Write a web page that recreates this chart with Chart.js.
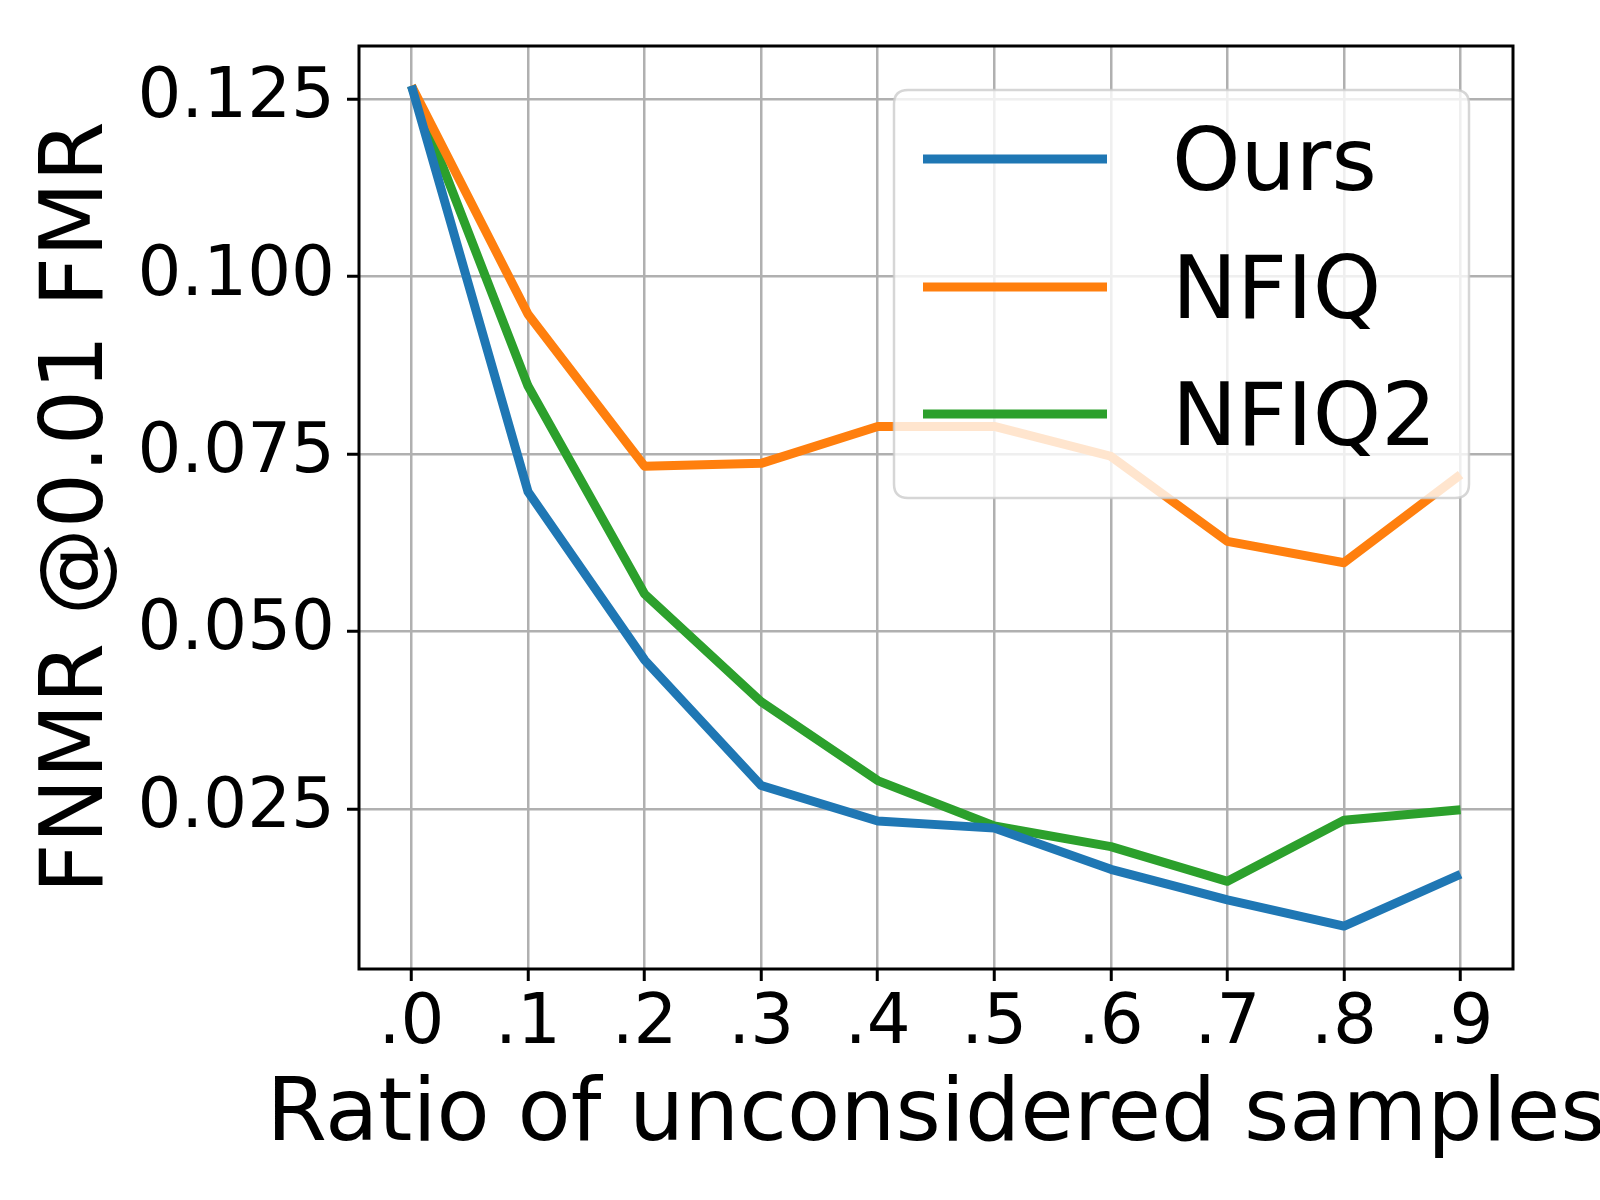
<!DOCTYPE html>
<html>
<head>
<meta charset="utf-8">
<script src="https://cdn.jsdelivr.net/npm/chart.js@4.4.1/dist/chart.umd.min.js"></script>
<style>
  html, body { margin: 0; padding: 0; background: #ffffff; }
  canvas { display: block; }
</style>
</head>
<body>
<canvas id="c" width="1600" height="1200"></canvas>
<script>
// ---- data ----
const xLabels = ['.0', '.1', '.2', '.3', '.4', '.5', '.6', '.7', '.8', '.9'];
const yTicks = [0.025, 0.050, 0.075, 0.100, 0.125];
const seriesNames = ['Ours', 'NFIQ', 'NFIQ2'];
const ours  = [0.1269, 0.0697, 0.0460, 0.0283, 0.0233, 0.0223, 0.0165, 0.0122, 0.0085, 0.0158];
const nfiq  = [0.1269, 0.0947, 0.0733, 0.0737, 0.0789, 0.0789, 0.0747, 0.0627, 0.0597, 0.0721];
const nfiq2 = [0.1269, 0.0846, 0.0553, 0.0401, 0.0290, 0.0226, 0.0197, 0.0148, 0.0234, 0.0249];
const xTitle = 'Ratio of unconsidered samples';
const yTitle = 'FNMR @0.01 FMR';

const colors = ['#1f77b4', '#ff7f0e', '#2ca02c'];
const FONT = "'DejaVu Sans', 'Liberation Sans', sans-serif";

function toPoints(arr) { return arr.map((v, i) => ({ x: i, y: v })); }

const seriesData = [ours, nfiq, nfiq2];
const datasets = seriesData.map((arr, k) => ({
  label: seriesNames[k],
  data: toPoints(arr),
  borderColor: colors[k],
  backgroundColor: colors[k],
  borderWidth: 9,
  pointRadius: 0,
  pointHoverRadius: 0,
  tension: 0,
  fill: false,
  borderJoinStyle: 'round',
  borderCapStyle: 'butt'
}));

const framePlugin = {
  id: 'frameAndLegend',
  afterDatasetsDraw(chart) {
    const ctx = chart.ctx;
    const a = chart.chartArea;
    ctx.save();
    // axes frame
    ctx.strokeStyle = '#000000';
    ctx.lineWidth = 3;
    ctx.strokeRect(a.left, a.top, a.right - a.left, a.bottom - a.top);

    // legend box
    const lx = 894, ly = 90, lw = 1469 - 894, lh = 498 - 90, r = 14;
    ctx.beginPath();
    ctx.moveTo(lx + r, ly);
    ctx.lineTo(lx + lw - r, ly);
    ctx.quadraticCurveTo(lx + lw, ly, lx + lw, ly + r);
    ctx.lineTo(lx + lw, ly + lh - r);
    ctx.quadraticCurveTo(lx + lw, ly + lh, lx + lw - r, ly + lh);
    ctx.lineTo(lx + r, ly + lh);
    ctx.quadraticCurveTo(lx, ly + lh, lx, ly + lh - r);
    ctx.lineTo(lx, ly + r);
    ctx.quadraticCurveTo(lx, ly, lx + r, ly);
    ctx.closePath();
    ctx.fillStyle = 'rgba(255,255,255,0.8)';
    ctx.fill();
    ctx.strokeStyle = 'rgba(204,204,204,0.8)';
    ctx.lineWidth = 2.5;
    ctx.stroke();

    const rowY = [159, 287, 414];
    const baseY = [190, 318, 445];
    chart.data.datasets.forEach((ds, k) => {
      ctx.beginPath();
      ctx.strokeStyle = ds.borderColor;
      ctx.lineWidth = 9;
      ctx.lineCap = 'butt';
      ctx.moveTo(923, rowY[k]);
      ctx.lineTo(1107, rowY[k]);
      ctx.stroke();
      ctx.fillStyle = '#000000';
      ctx.font = '87px ' + FONT;
      ctx.textAlign = 'left';
      ctx.textBaseline = 'alphabetic';
      ctx.fillText(ds.label, 1172, baseY[k]);
    });

    // x axis title
    ctx.fillStyle = '#000000';
    ctx.font = '87px ' + FONT;
    ctx.textAlign = 'center';
    ctx.textBaseline = 'alphabetic';
    ctx.fillText(xTitle, (a.left + a.right) / 2, 1140);
    ctx.restore();
  }
};

new Chart(document.getElementById('c'), {
  type: 'line',
  data: { datasets },
  options: {
    responsive: false,
    animation: false,
    devicePixelRatio: 1,
    layout: { padding: { left: 0, top: 46, right: 87, bottom: 0 } },
    plugins: { legend: { display: false }, tooltip: { enabled: false } },
    scales: {
      x: {
        type: 'linear',
        min: -0.45,
        max: 9.45,
        afterBuildTicks(scale) { scale.ticks = xLabels.map((_, i) => ({ value: i })); },
        afterFit(scale) {
          scale.height = 1200 - 969;
          scale.paddingLeft = 0; scale.paddingRight = 0;
          scale.paddingTop = 0; scale.paddingBottom = 0;
        },
        ticks: {
          callback: (v) => xLabels[Math.round(v)],
          font: { size: 69, family: FONT },
          color: '#000000',
          padding: 3,
          maxRotation: 0,
          autoSkip: false
        },
        grid: { color: '#b0b0b0', lineWidth: 2.5, tickColor: '#000000', tickWidth: 3, tickLength: 12, drawTicks: true },
        border: { display: false }
      },
      y: {
        type: 'linear',
        min: 0.00245,
        max: 0.13251,
        afterBuildTicks(scale) { scale.ticks = yTicks.map(v => ({ value: v })); },
        afterFit(scale) {
          scale.width = 359;
          scale.paddingLeft = 0; scale.paddingRight = 0;
          scale.paddingTop = 0; scale.paddingBottom = 0;
        },
        ticks: {
          callback: (v) => v.toFixed(3),
          font: { size: 69, family: FONT },
          color: '#000000',
          padding: 12,
          autoSkip: false
        },
        title: {
          display: true,
          text: yTitle,
          font: { size: 87, family: FONT },
          color: '#000000',
          padding: { top: 27, bottom: 0 }
        },
        grid: { color: '#b0b0b0', lineWidth: 2.5, tickColor: '#000000', tickWidth: 3, tickLength: 12, drawTicks: true },
        border: { display: false }
      }
    }
  },
  plugins: [framePlugin]
});
</script>
</body>
</html>
